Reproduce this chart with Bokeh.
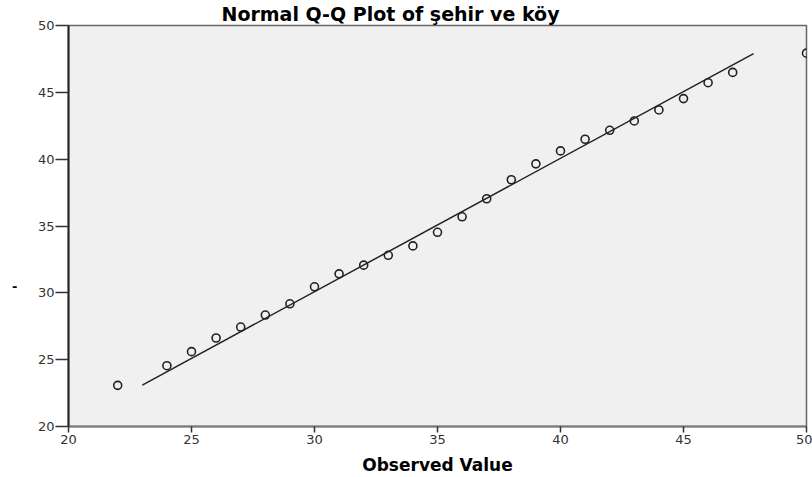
from bokeh.plotting import figure
from bokeh.models import Range1d, FixedTicker, LinearAxis
from bokeh.embed import file_html
from bokeh.resources import INLINE

# Data
observed = [22, 24, 25, 26, 27, 28, 29, 30, 31, 32, 33, 34, 35, 36, 37, 38, 39,
            40, 41, 42, 43, 44, 45, 46, 47, 50]
expected = [23.08, 24.55, 25.60, 26.62, 27.44, 28.34, 29.18, 30.45, 31.42, 32.07,
            32.81, 33.51, 34.53, 35.69, 37.04, 38.46, 39.65, 40.62, 41.49, 42.16,
            42.86, 43.68, 44.53, 45.72, 46.49, 47.93]
line_x = [23.0, 47.85]
line_y = [23.1, 47.9]
ticks = [20, 25, 30, 35, 40, 45, 50]
y_label_pos = [30.5]
y_label_text = "-"

FONT = "DejaVu Sans"

p = figure(width=812, height=477, output_backend="svg", toolbar_location=None,
           x_range=Range1d(20, 50), y_range=Range1d(20, 50),
           min_border_left=68, min_border_right=6, min_border_top=0,
           min_border_bottom=30)

p.title.text = "Normal Q-Q Plot of şehir ve köy"
p.title.text_font = FONT
p.title.text_font_size = "19px"
p.title.text_font_style = "bold"
p.title.text_color = "#000000"
p.title.align = "left"
p.title.offset = 153
p.title.standoff = 1

p.background_fill_color = "#f0f0f0"
p.border_fill_color = "#ffffff"
p.outline_line_color = "#666666"
p.outline_line_width = 1.5
p.grid.visible = False

for ax in (p.xaxis[0], p.yaxis[0]):
    ax.ticker = FixedTicker(ticks=ticks)
    ax.minor_tick_line_color = None
    ax.major_label_text_font = FONT
    ax.major_label_text_font_size = "13px"
    ax.major_label_text_color = "#333333"
    ax.major_tick_in = 0
    ax.major_tick_line_color = "#333333"
    ax.major_tick_line_width = 1.5

p.yaxis.major_tick_out = 13
p.yaxis.major_label_standoff = 1
p.yaxis.axis_line_color = "#222222"
p.yaxis.axis_line_width = 2

p.xaxis.major_tick_out = 6
p.xaxis.major_label_standoff = 2
p.xaxis.axis_line_color = "#777777"
p.xaxis.axis_line_width = 2
p.xaxis.axis_label = "Observed Value"
p.xaxis.axis_label_text_font = FONT
p.xaxis.axis_label_text_font_size = "17px"
p.xaxis.axis_label_text_font_style = "bold"
p.xaxis.axis_label_text_color = "#000000"
p.xaxis.axis_label_standoff = 8

# Outer helper axis carrying the short "-" y label
lab_axis = LinearAxis(ticker=FixedTicker(ticks=y_label_pos),
                      major_label_overrides={y_label_pos[0]: y_label_text},
                      axis_line_color=None, major_tick_line_color=None,
                      minor_tick_line_color=None, major_tick_in=0, major_tick_out=0,
                      major_label_standoff=17,
                      major_label_text_font=FONT,
                      major_label_text_font_size="13px",
                      major_label_text_font_style="bold",
                      major_label_text_color="#000000")
p.add_layout(lab_axis, "left")

p.line(line_x, line_y, line_color="#222222", line_width=1.5)
p.scatter(observed, expected, marker="circle", size=8, fill_color=None,
          line_color="#222222", line_width=1.6)

open("out.html", "w").write(file_html(p, INLINE))
